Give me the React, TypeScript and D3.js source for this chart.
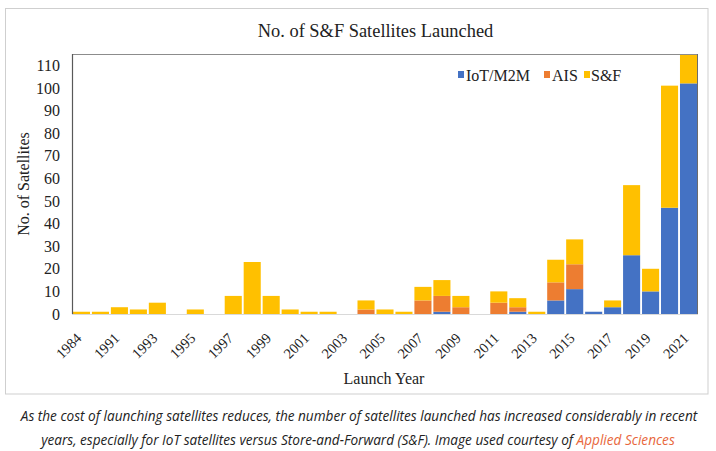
import React from "react";
import * as d3 from "d3";

const years = ["1984","1990","1991","1992","1993","1994","1995","1996","1997","1998","1999","2000","2001","2002","2003","2004","2005","2006","2007","2008","2009","2010","2011","2012","2013","2014","2015","2016","2017","2018","2019","2020","2021"];
const iotValues = [0,0,0,0,0,0,0,0,0,0,0,0,0,0,0,0,0,0,0,1,0,0,0,1,0,6,11,1,3,26,10,47,102];
const aisValues = [0,0,0,0,0,0,0,0,0,0,0,0,0,0,0,2,0,0,6,7,3,0,5,2,0,8,11,0,0,0,0,0,0];
const sfValues  = [1,1,3,2,5,0,2,0,8,23,8,2,1,1,0,4,2,1,6,7,5,0,5,4,1,10,11,0,3,31,10,54,13];
const seriesKeys = ["IoT/M2M","AIS","S&F"];
const seriesColors = ["#4472C4","#ED7D31","#FFC000"];
const yTicks = [0,10,20,30,40,50,60,70,80,90,100,110];

const W = 716, H = 451;
const L = 72, R = 698, T = 54, B = 314;
const serif = "'Liberation Serif', 'Times New Roman', serif";

export default function App() {
  const rows = years.map((y, i) => ({ year: y, "IoT/M2M": iotValues[i], AIS: aisValues[i], "S&F": sfValues[i] }));
  const stack = d3.stack<any>().keys(seriesKeys)(rows);
  const x = d3.scaleBand<string>().domain(years).range([L, R]).paddingInner(0.1).paddingOuter(0.05);
  const y = d3.scaleLinear().domain([0, 115]).range([B, T]);

  return (
    <svg width={W} height={H} style={{ position: "absolute", left: 0, top: 0, background: "#fff" }}>
      <defs>
        <clipPath id="plot"><rect x={L} y={T} width={R - L} height={B - T} /></clipPath>
      </defs>
      <rect x={5.5} y={8.5} width={702.5} height={385.5} fill="#fff" stroke="#cfcfcf" strokeWidth={1} />
      <text x={375.5} y={37} textAnchor="middle" fontFamily={serif} fontSize={18.4} fill="#222">No. of S&amp;F Satellites Launched</text>
      <g clipPath="url(#plot)">
        {stack.map((s, si) => (
          <g key={si} fill={seriesColors[si]}>
            {s.map((d, i) => d[1] - d[0] > 0 ? (
              <rect key={i} x={x(years[i])!} width={x.bandwidth()} y={y(d[1])} height={y(d[0]) - y(d[1])} />
            ) : null)}
          </g>
        ))}
      </g>
      <line x1={L} x2={R} y1={T + 0.5} y2={T + 0.5} stroke="#8c8c8c" strokeWidth={1.2} />
      <line x1={L + 0.5} x2={L + 0.5} y1={T} y2={B} stroke="#595959" strokeWidth={1.2} />
      <line x1={R - 0.5} x2={R - 0.5} y1={T} y2={B} stroke="#6b6b6b" strokeWidth={1} />
      <line x1={L} x2={R} y1={B + 0.5} y2={B + 0.5} stroke="#d9d9d9" strokeWidth={1} />
      {yTicks.map(t => (
        <text key={t} x={60} y={y(t)} dy="0.35em" textAnchor="end" fontFamily={serif} fontSize={16} fill="#222">{t}</text>
      ))}
      {years.map((yr, i) => i % 2 === 0 ? (
        <text key={yr} transform={`translate(${x(yr)! + x.bandwidth() / 2 + 1},339) rotate(-45)`} textAnchor="end" fontFamily={serif} fontSize={14.5} fill="#222">{yr}</text>
      ) : null)}
      <text x={384} y={384} textAnchor="middle" fontFamily={serif} fontSize={16} fill="#222">Launch Year</text>
      <text transform="translate(29,184) rotate(-90)" textAnchor="middle" fontFamily={serif} fontSize={16} fill="#222">No. of Satellites</text>
      {[{ sx: 458, tx: 466 }, { sx: 544, tx: 552 }, { sx: 584, tx: 591 }].map((p, i) => (
        <g key={i}>
          <rect x={p.sx} y={71} width={6} height={7} fill={seriesColors[i]} />
          <text x={p.tx} y={81} fontFamily={serif} fontSize={16} fill="#222">{seriesKeys[i]}</text>
        </g>
      ))}
      <text x={359} y={421} textAnchor="middle" fontFamily="'Open Sans', sans-serif" fontStyle="italic" fontSize={13.6} fill="#222">As the cost of launching satellites reduces, the number of satellites launched has increased considerably in recent</text>
      <text x={358} y={445} textAnchor="middle" fontFamily="'Open Sans', sans-serif" fontStyle="italic" fontSize={13.6} fill="#222">years, especially for IoT satellites versus Store-and-Forward (S&amp;F). Image used courtesy of <tspan fill="#E8673C">Applied Sciences</tspan></text>
    </svg>
  );
}
